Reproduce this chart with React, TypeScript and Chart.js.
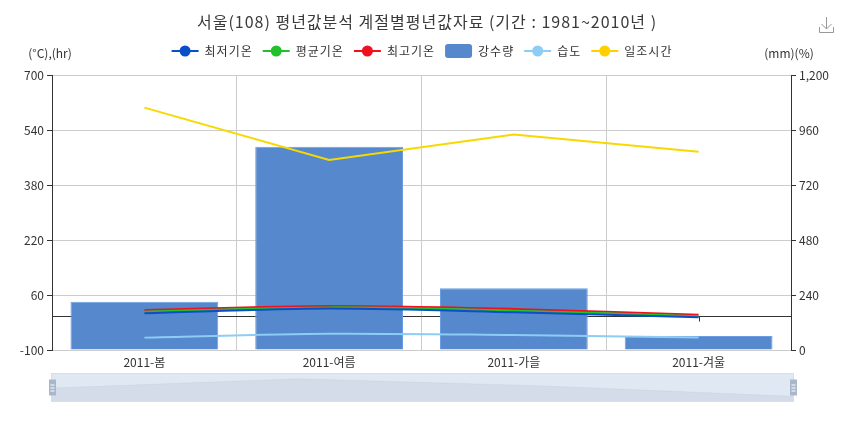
import React, { useEffect, useRef } from 'react';
import { Chart, registerables } from 'chart.js';
Chart.register(...registerables);

const categories = ['2011-봄', '2011-여름', '2011-가을', '2011-겨울'];
const minTemp = [7.0, 20.5, 10.0, -5.0];
const avgTemp = [11.5, 24.0, 14.5, -1.5];
const maxTemp = [16.0, 28.0, 19.5, 2.5];
const precip = [211, 887, 269, 61];
const humidity = [54, 71, 65, 55];
const sunshine = [605, 453, 527, 477];

const leftTicks = { min: -100, max: 700, step: 160 };
const rightTicks = { min: 0, max: 1200, step: 240 };

const titleText = '서울(108) 평년값분석 계절별평년값자료 (기간 : 1981~2010년 )';
const leftAxisName = '(°C),(hr)';
const rightAxisName = '(mm)(%)';

const FONT = "'Noto Sans CJK KR', 'Noto Sans', sans-serif";

const C_MIN = '#0a4fc9';
const C_AVG = '#22c02a';
const C_MAX = '#f0101e';
const C_BAR = '#5588cc';
const C_HUM = '#8cccf5';
const C_SUN = '#f7d900';

const legendItems = [
  { label: '최저기온', color: C_MIN, kind: 'line' },
  { label: '평균기온', color: C_AVG, kind: 'line' },
  { label: '최고기온', color: C_MAX, kind: 'line' },
  { label: '강수량', color: C_BAR, kind: 'rect' },
  { label: '습도', color: C_HUM, kind: 'line' },
  { label: '일조시간', color: '#ffd000', kind: 'line' },
];

export default function App() {
  const ref = useRef<HTMLCanvasElement>(null);
  useEffect(() => {
    const canvas = ref.current!;
    const extras = {
      id: 'extras',
      beforeDatasetsDraw(chart: any) {
        const { ctx, chartArea, scales } = chart;
        const y0 = Math.round(scales.y.getPixelForValue(0)) + 0.5;
        ctx.save();
        ctx.strokeStyle = '#333';
        ctx.lineWidth = 1;
        ctx.beginPath();
        ctx.moveTo(chartArea.left, y0);
        ctx.lineTo(chartArea.right, y0);
        categories.forEach((_, i) => {
          const x = Math.round(scales.x.getPixelForValue(i)) + 0.5;
          ctx.moveTo(x, y0);
          ctx.lineTo(x, y0 + 5);
        });
        ctx.stroke();
        ctx.restore();
      },
      afterDraw(chart: any) {
        const { ctx, chartArea } = chart;
        ctx.save();
        // title
        ctx.fillStyle = '#3a3a3a';
        ctx.font = `16px ${FONT}`;
        (ctx as any).letterSpacing = '1px';
        ctx.textAlign = 'center';
        ctx.textBaseline = 'middle';
        ctx.fillText(titleText, 427, 22);
        (ctx as any).letterSpacing = '0px';

        // axis names
        ctx.font = `12px ${FONT}`;
        ctx.fillStyle = '#333';
        ctx.fillText(leftAxisName, chartArea.left - 2, 53);
        ctx.fillText(rightAxisName, chartArea.right - 2, 53);

        // legend
        ctx.font = `12px ${FONT}`;
        (ctx as any).letterSpacing = '1px';
        const iw = 27, ih = 14, gap = 10, tpad = 6;
        const widths = legendItems.map((it) => ctx.measureText(it.label).width);
        const total = widths.reduce((a, w) => a + iw + tpad + w, 0) + gap * (legendItems.length - 1);
        let x = 422 - total / 2;
        const ly = 51;
        legendItems.forEach((it, i) => {
          if (it.kind === 'line') {
            ctx.strokeStyle = it.color;
            ctx.lineWidth = 2;
            ctx.beginPath();
            ctx.moveTo(x, ly);
            ctx.lineTo(x + iw, ly);
            ctx.stroke();
            ctx.fillStyle = it.color;
            ctx.beginPath();
            ctx.arc(x + iw / 2, ly, 5.5, 0, Math.PI * 2);
            ctx.fill();
          } else {
            ctx.fillStyle = it.color;
            const r = 3, rx = x, ry = ly - ih / 2;
            ctx.beginPath();
            ctx.moveTo(rx + r, ry);
            ctx.lineTo(rx + iw - r, ry);
            ctx.quadraticCurveTo(rx + iw, ry, rx + iw, ry + r);
            ctx.lineTo(rx + iw, ry + ih - r);
            ctx.quadraticCurveTo(rx + iw, ry + ih, rx + iw - r, ry + ih);
            ctx.lineTo(rx + r, ry + ih);
            ctx.quadraticCurveTo(rx, ry + ih, rx, ry + ih - r);
            ctx.lineTo(rx, ry + r);
            ctx.quadraticCurveTo(rx, ry, rx + r, ry);
            ctx.fill();
          }
          ctx.fillStyle = '#333';
          ctx.textAlign = 'left';
          ctx.fillText(it.label, x + iw + tpad, ly);
          x += iw + tpad + widths[i] + gap;
        });
        (ctx as any).letterSpacing = '0px';

        // download icon
        ctx.strokeStyle = '#999';
        ctx.lineWidth = 1;
        ctx.beginPath();
        ctx.moveTo(826.5, 17);
        ctx.lineTo(826.5, 29);
        ctx.moveTo(821.5, 24);
        ctx.lineTo(826.5, 29);
        ctx.lineTo(831.5, 24);
        ctx.moveTo(819.5, 27);
        ctx.lineTo(819.5, 32.5);
        ctx.lineTo(833.5, 32.5);
        ctx.lineTo(833.5, 27);
        ctx.stroke();

        // data zoom slider
        const sx0 = 51.5, sx1 = 793.5, sy0 = 373.5, sy1 = 401.5;
        const lo0 = Math.min(...minTemp), hi0 = Math.max(...minTemp);
        const padv = (hi0 - lo0) * 0.3;
        const lo = lo0 - padv, hi = hi0 + padv;
        const pts = minTemp.map((v, i) => [
          sx0 + (i / (minTemp.length - 1)) * (sx1 - sx0),
          sy1 - ((v - lo) / (hi - lo)) * (sy1 - sy0),
        ]);
        ctx.fillStyle = 'rgba(47,69,84,0.1)';
        ctx.beginPath();
        ctx.moveTo(sx0, sy1);
        pts.forEach(([px, py]) => ctx.lineTo(px, py));
        ctx.lineTo(sx1, sy1);
        ctx.closePath();
        ctx.fill();
        ctx.strokeStyle = 'rgba(47,69,84,0.12)';
        ctx.lineWidth = 0.5;
        ctx.beginPath();
        pts.forEach(([px, py], i) => (i ? ctx.lineTo(px, py) : ctx.moveTo(px, py)));
        ctx.stroke();
        ctx.fillStyle = 'rgba(167,190,220,0.35)';
        ctx.fillRect(sx0, sy0, sx1 - sx0, sy1 - sy0);
        ctx.strokeStyle = '#ddd';
        ctx.lineWidth = 1;
        ctx.strokeRect(sx0, sy0, sx1 - sx0, sy1 - sy0);
        [sx0 + 1, sx1].forEach((hx) => {
          const hy = (sy0 + sy1) / 2;
          ctx.fillStyle = '#a7b7cc';
          ctx.fillRect(hx - 3.5, hy - 8, 7, 16);
          ctx.fillStyle = '#fff';
          ctx.fillRect(hx - 2, hy - 3, 4, 1);
          ctx.fillRect(hx - 2, hy, 4, 1);
          ctx.fillRect(hx - 2, hy + 3, 4, 1);
        });
        ctx.restore();
      },
    };

    const lineDs = (label: string, data: number[], color: string, axis: string, tension: number) => ({
      type: 'line' as const,
      label,
      data,
      yAxisID: axis,
      borderColor: color,
      backgroundColor: color,
      borderWidth: 2,
      pointRadius: 0,
      tension,
      order: 1,
    });

    const chart = new Chart(canvas, {
      type: 'bar',
      data: {
        labels: categories,
        datasets: [
          lineDs('최저기온', minTemp, C_MIN, 'y', 0.3),
          lineDs('평균기온', avgTemp, C_AVG, 'y', 0.3),
          lineDs('최고기온', maxTemp, C_MAX, 'y', 0.3),
          {
            type: 'bar',
            label: '강수량',
            data: precip,
            yAxisID: 'y1',
            backgroundColor: C_BAR,
            borderColor: '#6a9ee0',
            borderWidth: 1,
            barPercentage: 0.8,
            categoryPercentage: 1,
            order: 10,
          } as any,
          lineDs('습도', humidity, C_HUM, 'y1', 0.3),
          lineDs('일조시간', sunshine, C_SUN, 'y', 0),
        ],
      },
      options: {
        responsive: false,
        animation: false,
        events: [],
        font: { family: FONT },
        layout: { padding: { top: 75, left: 0, right: 0, bottom: 0 } },
        plugins: {
          legend: { display: false },
          title: { display: false },
          tooltip: { enabled: false },
        },
        scales: {
          x: {
            type: 'category',
            offset: true,
            grid: { offset: true, color: '#ccc', drawTicks: false },
            border: { display: false },
            ticks: { color: '#333', font: { size: 12, family: FONT }, padding: 5 },
            afterFit: (s: any) => {
              s.height = 73;
            },
          },
          y: {
            position: 'left',
            min: leftTicks.min,
            max: leftTicks.max,
            ticks: { stepSize: leftTicks.step, color: '#333', font: { size: 12, family: FONT }, padding: 3 },
            grid: { color: '#ccc', tickColor: '#333', tickLength: 5 },
            border: { color: '#333' },
            afterFit: (s: any) => {
              s.width = 52;
            },
          },
          y1: {
            position: 'right',
            min: rightTicks.min,
            max: rightTicks.max,
            ticks: { stepSize: rightTicks.step, color: '#333', font: { size: 12, family: FONT }, padding: 3 },
            grid: { drawOnChartArea: false, tickColor: '#333', tickLength: 5 },
            border: { color: '#333' },
            afterFit: (s: any) => {
              s.width = 54;
            },
          },
        },
      } as any,
      plugins: [extras],
    });
    return () => chart.destroy();
  }, []);

  return (
    <div style={{ position: 'fixed', left: 0, top: 0, width: 845, height: 423, background: '#fff' }}>
      <canvas ref={ref} width={845} height={423} style={{ display: 'block' }} />
    </div>
  );
}
